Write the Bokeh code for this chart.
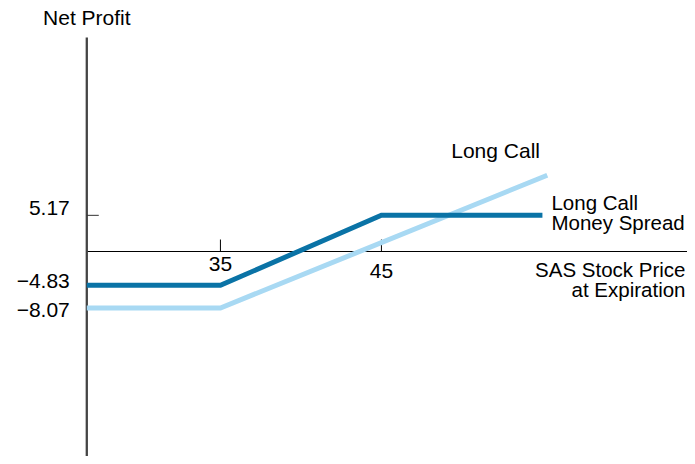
from bokeh.plotting import figure
from bokeh.models import Range1d, ColumnDataSource
from bokeh.core.properties import value
from bokeh.embed import file_html
from bokeh.resources import INLINE

# ---- data ----
price_min = 26.7                       # where the price axis starts (y-axis crossing)
spread_x = [price_min, 35, 45, 55]
spread_y = [-4.83, -4.83, 5.17, 5.17]
call_x = [price_min, 35, 55.3]
call_y = [-8.07, -8.07, 10.9]
x_ticks = [35, 45]
x_tick_labels = ["35", "45"]
y_ticks = [5.17]
y_label_values = [5.17, -4.83, -8.07]
y_label_texts = ["5.17", "\u22124.83", "\u22128.07"]
axis_top = 30.57

# ---- layout / style ----
W, H = 687, 456
X0, PX_X = 21.34, 16.1        # x range start, pixels per price unit
Y1, PX_Y = 35.86, 7.0         # y range end, pixels per profit unit
X1 = X0 + W / PX_X
Y0 = Y1 - H / PX_Y
TICK = 12                     # tick length, px

FONT = value("Liberation Sans")
FS = "21px"
FS_R = "20.5px"
DARK = "#0a73a6"
LIGHT = "#a8d9f3"

p = figure(width=W, height=H, output_backend="svg", toolbar_location=None,
           x_range=Range1d(X0, X1), y_range=Range1d(Y0, Y1),
           x_axis_location=None, y_axis_location=None, min_border=0)
p.outline_line_color = None
p.xgrid.visible = False
p.ygrid.visible = False
p.background_fill_color = "white"
p.border_fill_color = "white"

# axes lines and ticks
p.segment(x0=[price_min], y0=[0], x1=[X1 + 1], y1=[0], line_color="black", line_width=1.2)
p.segment(x0=[price_min], y0=[Y0 - 1], x1=[price_min], y1=[axis_top],
          line_color="#444444", line_width=2.3)
p.segment(x0=x_ticks, y0=[0] * len(x_ticks), x1=x_ticks, y1=[TICK / PX_Y] * len(x_ticks),
          line_color="black", line_width=1)
p.segment(x0=[price_min] * len(y_ticks), y0=y_ticks,
          x1=[price_min + TICK / PX_X] * len(y_ticks), y1=y_ticks,
          line_color="#333333", line_width=1)

# payoff lines
p.line(call_x, call_y, line_color=LIGHT, line_width=5, line_join="miter", line_cap="butt")
p.line(spread_x, spread_y, line_color=DARK, line_width=5, line_join="miter", line_cap="butt")

# tick labels
xs = ColumnDataSource(dict(x=x_ticks, y=[0, 0], t=x_tick_labels, dy=[12, 19]))
p.text(x="x", y="y", text="t", source=xs, y_offset="dy", text_align="center",
       text_baseline="middle", text_font=FONT, text_font_size=FS, text_color="black")
ys = ColumnDataSource(dict(x=[price_min] * 3, y=y_label_values, t=y_label_texts, dy=[-7, -4, 2]))
p.text(x="x", y="y", text="t", source=ys, x_offset=-17, y_offset="dy", text_align="right",
       text_baseline="middle", text_font=FONT, text_font_size=FS, text_color="black")

# titles / annotations
p.text(x=[price_min], y=[axis_top], text=["Net Profit"], y_offset=-20, text_align="center",
       text_baseline="middle", text_font=FONT, text_font_size=FS, text_color="black")
p.text(x=[call_x[-1]], y=[call_y[-1]], text=["Long Call"], x_offset=-96, y_offset=-25,
       text_align="left", text_baseline="middle", text_font=FONT, text_font_size=FS,
       text_color="black")
p.text(x=[spread_x[-1]], y=[spread_y[-1]], text=["Long Call\nMoney Spread"], x_offset=9,
       y_offset=-3, text_align="left", text_baseline="middle", text_line_height=0.87,
       text_font=FONT, text_font_size=FS_R, text_color="black")
p.text(x=[X1], y=[0], text=["SAS Stock Price\nat Expiration"], x_offset=-2, y_offset=28,
       text_align="right", text_baseline="middle", text_line_height=0.83,
       text_font=FONT, text_font_size=FS_R, text_color="black")

open("out.html", "w").write(file_html(p, INLINE))
